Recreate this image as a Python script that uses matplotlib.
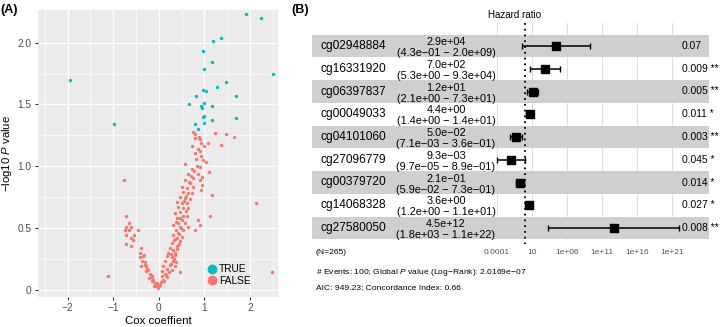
import numpy as np
import matplotlib
matplotlib.use("Agg")
import matplotlib.pyplot as plt
from matplotlib.lines import Line2D
from matplotlib.patches import Rectangle

plt.rcParams['font.family'] = ['Liberation Sans', 'DejaVu Sans']
plt.rcParams['mathtext.fontset'] = 'custom'
plt.rcParams['mathtext.rm'] = 'Liberation Sans'
plt.rcParams['mathtext.it'] = 'Liberation Sans:italic'

# ---- panel A data (Cox coefficient vs -log10 p) ----
true_x = [1.91, 2.25, 1.36, 1.18, 0.98, 1.17, 1.00, 2.51, -1.95, 1.47, 1.28, 0.96, 1.04, 1.69,
          0.82, 0.66, 0.99, 0.92, 0.95, 1.17, 0.99, 0.96, 1.17, 1.69, -0.99, 1.00, 0.80, 0.87]
true_y = [2.23, 2.20, 2.04, 2.01, 1.93, 1.84, 1.79, 1.75, 1.70, 1.68, 1.64, 1.62, 1.61, 1.57,
          1.57, 1.50, 1.51, 1.49, 1.47, 1.49, 1.41, 1.40, 1.37, 1.39, 1.34, 1.35, 1.34, 1.30]

false_x = [2.48, 2.14, 1.17, -0.77, -1.11, 0.47, 1.47, 1.65, 1.37, 1.23, 1.10, 0.87, 0.91, 0.79, 1.12,
           0.76, 0.80, 0.88, 0.90, 0.79, 0.92, 0.73, 0.85, 0.90, 0.79, 0.99, 1.08, 0.93, 0.82, 0.58,
           0.97, 1.04, 0.90, 0.72, 0.64, 0.85, 0.95, 0.90, 0.75, 0.57, 0.68, 0.50, 0.61, 0.74, 0.95,
           0.93, 0.53, 0.64, 0.72, 0.46, 0.57, 0.39, 0.50, 0.61, 0.42, 0.53, 0.64, 0.46, 0.35, 0.52,
           0.61, 0.39, 0.50, 0.42, 0.57, 0.31, 0.46, 0.37, 0.53, 0.64, 0.42, 0.31, 0.50, 0.35, 0.46,
           0.28, 0.39, 0.24, 0.31, 0.20, 0.35, 0.17, 0.28, 0.13, 0.31, 0.37, 0.24, 0.09, 0.35, 0.17,
           0.28, 0.08, 0.13, 0.06, 0.09, 0.04, 0.01, -0.01, 0.02, -0.04,
           0.44, 0.40, 0.33, 0.48, 0.36, 0.27, 0.45, 0.38, 0.26, 0.22, 0.33, 0.41, 0.15, 0.19, 0.11,
           0.55, 0.60, 0.47, 0.66, 0.70, 0.78, 0.83, 0.68, 0.59,
           -0.38, -0.42, -0.34, -0.42, -0.36, -0.31, -0.27, -0.38, -0.23, -0.20, -0.27, -0.16, -0.21,
           -0.12, -0.09, -0.16, -0.05, -0.11, -0.30, -0.25, -0.18, -0.14, -0.07, -0.02, -0.33,
           -0.72, -0.66, -0.71, -0.62, -0.74, -0.66, -0.55, -0.46, -0.72, -0.62, -0.71, -0.60, -0.56]
false_y = [0.14, 0.70, 0.77, 0.89, 0.11, 0.14, 1.26, 1.24, 1.17, 1.27, 0.95, 0.56, 0.52, 0.48, 0.60,
           1.28, 1.26, 1.24, 1.22, 1.23, 1.19, 1.16, 1.14, 1.12, 1.11, 1.16, 1.19, 1.08, 1.06, 1.02,
           1.05, 1.03, 0.99, 0.98, 0.94, 0.94, 0.91, 0.89, 0.90, 0.89, 0.86, 0.83, 0.82, 0.83, 0.85,
           0.81, 0.79, 0.78, 0.78, 0.75, 0.74, 0.71, 0.70, 0.70, 0.67, 0.66, 0.66, 0.63, 0.62, 0.60,
           0.60, 0.58, 0.56, 0.54, 0.54, 0.52, 0.51, 0.48, 0.48, 0.51, 0.46, 0.44, 0.43, 0.41, 0.39,
           0.38, 0.35, 0.34, 0.32, 0.30, 0.28, 0.27, 0.26, 0.23, 0.23, 0.22, 0.20, 0.19, 0.19, 0.17,
           0.16, 0.15, 0.13, 0.11, 0.08, 0.06, 0.03, 0.02, 0.04, 0.05,
           0.45, 0.42, 0.40, 0.50, 0.30, 0.29, 0.37, 0.55, 0.21, 0.14, 0.25, 0.33, 0.12, 0.10, 0.07,
           0.72, 0.76, 0.58, 0.87, 0.92, 0.96, 1.00, 0.73, 0.64,
           0.34, 0.30, 0.27, 0.26, 0.23, 0.20, 0.19, 0.19, 0.16, 0.13, 0.15, 0.11, 0.09,
           0.08, 0.05, 0.07, 0.03, 0.03, 0.22, 0.17, 0.12, 0.10, 0.04, 0.01, 0.28,
           0.60, 0.54, 0.51, 0.51, 0.48, 0.48, 0.44, 0.48, 0.44, 0.42, 0.37, 0.35, 0.40]

# ---- panel B data (hazard ratios) ----
probes = ["cg02948884", "cg16331920", "cg06397837", "cg00049033", "cg04101060",
          "cg27096779", "cg00379720", "cg14068328", "cg27580050"]
hr = [2.9e4, 7.0e2, 1.2e1, 4.4e0, 5.0e-2, 9.3e-3, 2.1e-1, 3.6e0, 4.5e12]
hr_lo = [4.3e-1, 5.3e0, 2.1e0, 1.4e0, 7.1e-3, 9.7e-5, 5.9e-2, 1.2e0, 1.8e3]
hr_hi = [2.0e9, 9.3e4, 7.3e1, 1.4e1, 3.6e-1, 8.9e-1, 7.3e-1, 1.1e1, 1.1e22]
pvals = ["0.07", "0.009", "0.005", "0.011", "0.003", "0.045", "0.014", "0.027", "0.008"]
stars = ["", "**", "**", "*", "**", "*", "*", "*", "**"]
hr_ticks = [1e-4, 1e1, 1e6, 1e11, 1e16, 1e21]
hr_tick_labels = ["0.0001", "10", "1e+06", "1e+11", "1e+16", "1e+21"]

W, H = 720, 327
fig = plt.figure(figsize=(7.2, 3.27), dpi=100)


def box(x0, y0, x1, y1):
    # pixel box (top-left origin) -> figure fraction
    return [x0 / W, 1 - y1 / H, (x1 - x0) / W, (y1 - y0) / H]


# ================= panel A =================
axA = fig.add_axes(box(38, 10, 278, 297))
axA.set_facecolor('#EBEBEB')
for s in axA.spines.values():
    s.set_visible(False)
axA.set_xlim(-2.65, 2.615)
axA.set_ylim(-0.06, 2.265)
axA.set_xticks([-2, -1, 0, 1, 2])
axA.set_yticks([0, 0.5, 1.0, 1.5, 2.0])
axA.set_yticklabels(["0", "0.5", "1.0", "1.5", "2.0"])
axA.set_xticks([-2.5, -1.5, -0.5, 0.5, 1.5, 2.5], minor=True)
axA.set_yticks([0.25, 0.75, 1.25, 1.75], minor=True)
axA.grid(True, which='major', color='white', lw=1.0)
axA.grid(True, which='minor', color='white', lw=0.5)
axA.set_axisbelow(True)
axA.tick_params(which='major', length=2.5, color='#333333', labelsize=7.3,
                labelcolor='#4D4D4D', pad=2)
axA.tick_params(which='minor', length=0)

c_true, c_false = '#00BFC4', '#F8766D'
axA.scatter(false_x, false_y, s=6, color=c_false, lw=0)
axA.scatter(true_x, true_y, s=6, color=c_true, lw=0)
axA.set_xlabel("Cox coeffient", fontsize=8.2, labelpad=2)
axA.set_ylabel("\u2212log10 $P$ value", fontsize=8.2)
axA.yaxis.set_label_coords(-0.098, 0.5)

handles = [Line2D([], [], ls='', marker='o', ms=6, color=c_true),
           Line2D([], [], ls='', marker='o', ms=6, color=c_false)]
axA.legend(handles, ["TRUE", "FALSE"], loc='lower left', bbox_to_anchor=(0.67, 0.015),
           frameon=False, fontsize=7.3, handletextpad=0.1, labelspacing=0.15,
           borderpad=0.2, handlelength=1.2)

fig.text(0 / W, 1 - 10 / H, "(A)", fontsize=9, fontweight='bold', va='center', ha='left')
fig.text(291 / W, 1 - 10 / H, "(B)", fontsize=9, fontweight='bold', va='center', ha='left')

# ================= panel B =================
# x in log10(HR) units: px = 525 + 7 * log10(HR); y in row units: py = 46 + 22.75 * row
def Lx(px):
    return (px - 525) / 7.0


def Ry(py):
    return (py - 46) / 22.75


axB = fig.add_axes(box(300, 0, 720, 327))
axB.set_xlim(Lx(300), Lx(720))
axB.set_ylim(Ry(327), Ry(0))
axB.axis('off')

n = len(probes)
rows = np.arange(n)
lhr = np.log10(hr)
llo = np.log10(hr_lo)
lhi = np.log10(hr_hi)

# grid lines under the bands
for t in hr_ticks:
    axB.plot([np.log10(t), np.log10(t)], [Ry(23), n - 0.5], color='#DDDDDD', lw=0.7, zorder=0)

for i in rows:
    if i % 2 == 0:
        axB.add_patch(Rectangle((Lx(312), i - 0.5), Lx(709) - Lx(312), 1.0,
                                facecolor='#CFCFCF', edgecolor='none', zorder=1))

axB.plot([0, 0], [Ry(23), Ry(244)], color='black', lw=1.3, ls=(0, (1, 2.2)), zorder=2)

axB.errorbar(lhr, rows, xerr=[lhr - llo, lhi - lhr], fmt='s', color='black', ms=5.2,
             lw=1.1, capsize=2.2, capthick=1.0, zorder=3)

fmt = lambda v: ("%.1e" % v).replace('-', '\u2212')
for i in rows:
    axB.text(Lx(353), i, probes[i], fontsize=8.6, ha='center', va='center')
    axB.text(Lx(446), i - 0.17, fmt(hr[i]), fontsize=7.8, ha='center', va='center')
    axB.text(Lx(446), i + 0.31, "(%s \u2212 %s)" % (fmt(hr_lo[i]), fmt(hr_hi[i])),
             fontsize=7.8, ha='center', va='center')
    axB.text(Lx(682), i, pvals[i] + (" " + stars[i] if stars[i] else ""), fontsize=7.4,
             ha='left', va='center', zorder=4)

for t, lab in zip(hr_ticks, hr_tick_labels):
    axB.text(np.log10(t), Ry(253), lab, fontsize=6.0, color='#555555', ha='center', va='center')

axB.text(Lx(515), Ry(15), "Hazard ratio", fontsize=7.1, ha='center', va='center')
axB.text(Lx(316), Ry(253), "(N=265)", fontsize=6.1, ha='left', va='center')
axB.text(Lx(316), Ry(273), "# Events: 100; Global $P$ value (Log\u2212Rank): 2.0169e\u221207",
         fontsize=6.1, ha='left', va='center')
axB.text(Lx(316), Ry(288), "AIC: 949.23; Concordance Index: 0.66", fontsize=6.1,
         ha='left', va='center')

plt.savefig('out.png', dpi=100)
